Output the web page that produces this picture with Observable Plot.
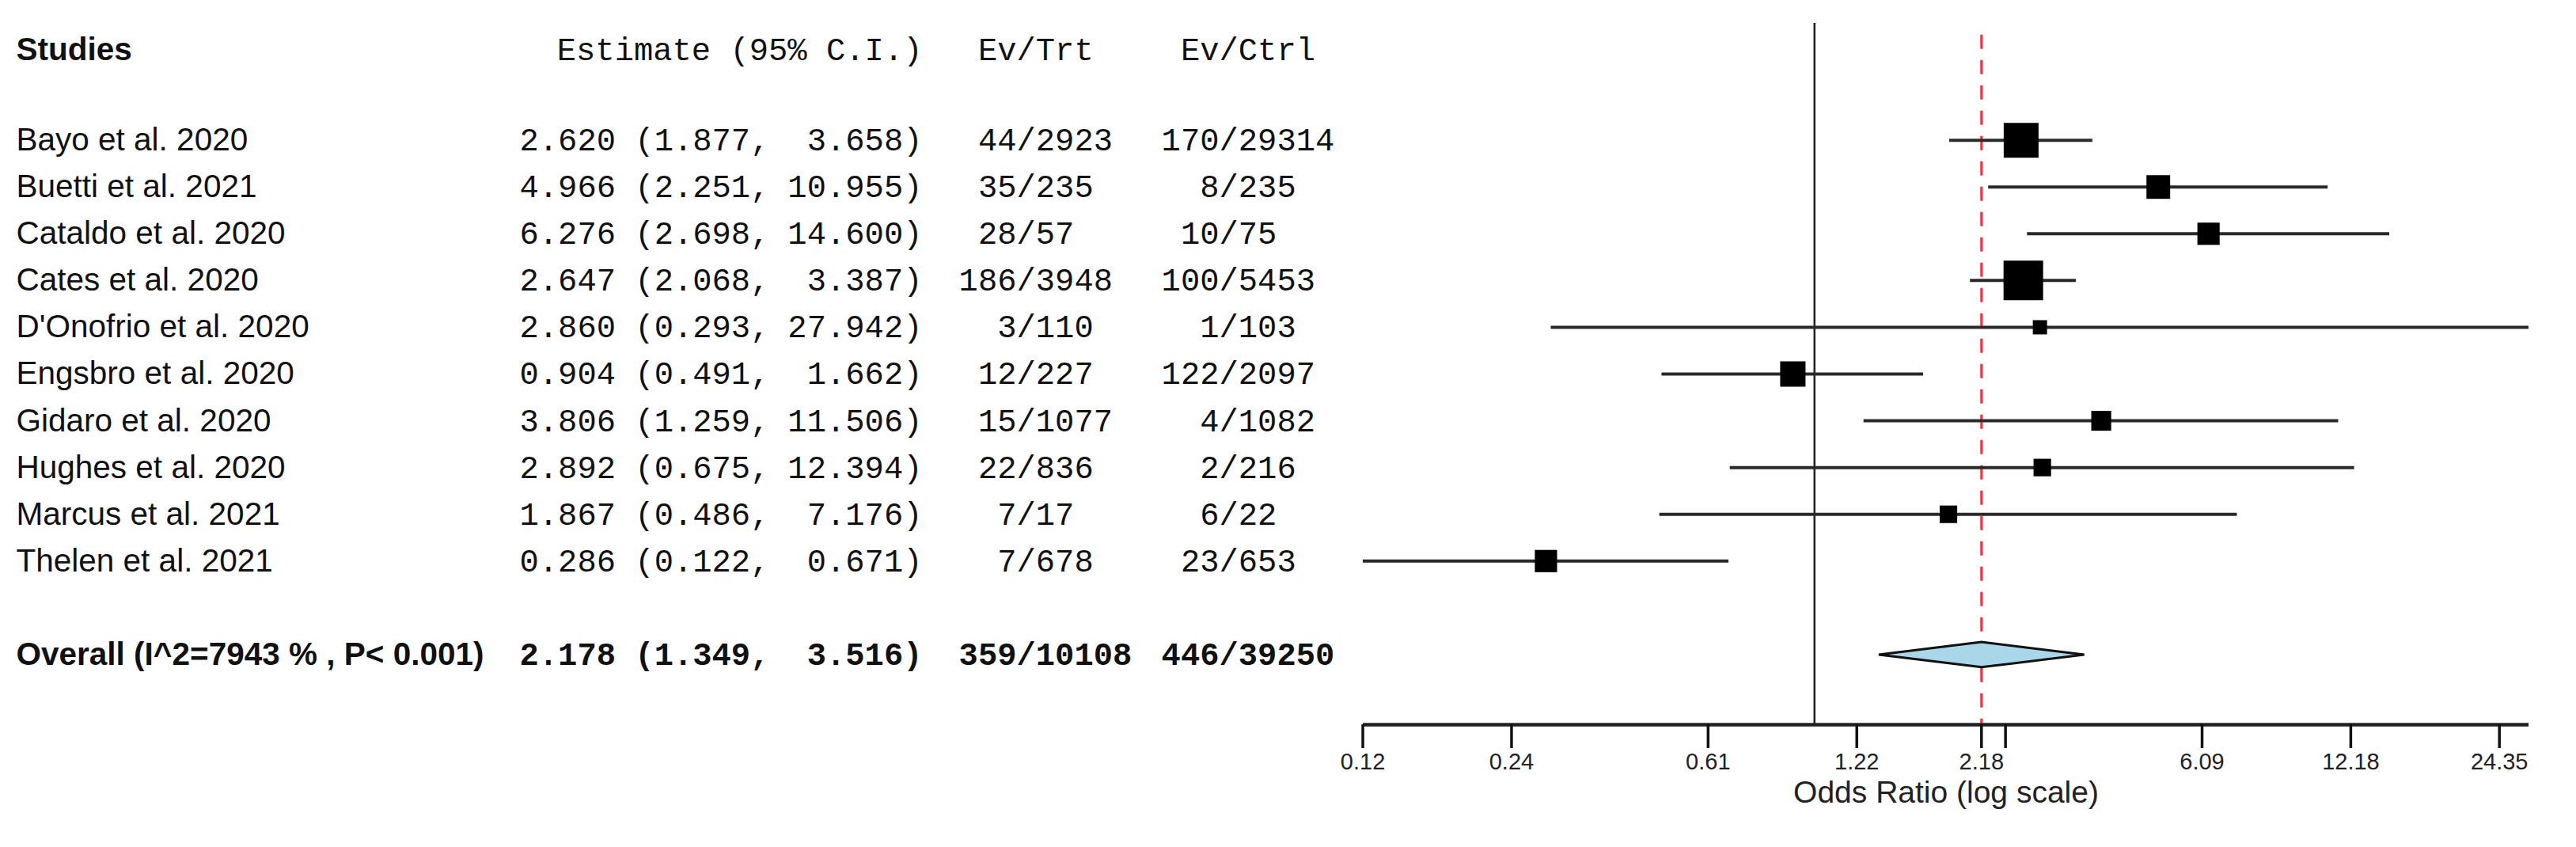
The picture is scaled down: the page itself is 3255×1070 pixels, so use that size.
<!DOCTYPE html>
<html>
<head>
<meta charset="utf-8">
<script src="https://cdn.jsdelivr.net/npm/d3@7"></script>
<script src="https://cdn.jsdelivr.net/npm/@observablehq/plot@0.6"></script>
<style>
  html, body { margin: 0; padding: 0; background: #fff; }
  #chart svg { display: block; }
</style>
</head>
<body>
<div id="chart"></div>
<script>
// ---------------- data ----------------
const studies = [
  "Bayo et al. 2020", "Buetti et al. 2021", "Cataldo et al. 2020", "Cates et al. 2020",
  "D'Onofrio et al. 2020", "Engsbro et al. 2020", "Gidaro et al. 2020", "Hughes et al. 2020",
  "Marcus et al. 2021", "Thelen et al. 2021"
];
const estimates = [2.620, 4.966, 6.276, 2.647, 2.860, 0.904, 3.806, 2.892, 1.867, 0.286];
const lower     = [1.877, 2.251, 2.698, 2.068, 0.293, 0.491, 1.259, 0.675, 0.486, 0.122];
const upper     = [3.658, 10.955, 14.600, 3.387, 27.942, 1.662, 11.506, 12.394, 7.176, 0.671];
const evTrt  = [44, 35, 28, 186, 3, 12, 15, 22, 7, 7];
const nTrt   = [2923, 235, 57, 3948, 110, 227, 1077, 836, 17, 678];
const evCtrl = [170, 8, 10, 100, 1, 122, 4, 2, 6, 23];
const nCtrl  = [29314, 235, 75, 5453, 103, 2097, 1082, 216, 22, 653];
// relative study weights (%)
const weights = [14.7, 10.0, 9.4, 16.7, 6.0, 10.7, 8.4, 7.4, 7.4, 9.4];

const overallLabel = "Overall (I^2=7943 % , P< 0.001)";
const overallEst = 2.178, overallLo = 1.349, overallHi = 3.516;
const overallEvTrt = 359, overallNTrt = 10108, overallEvCtrl = 446, overallNCtrl = 39250;

const headers = ["Studies", "Estimate (95% C.I.)", "Ev/Trt", "Ev/Ctrl"];
const tickValues = [0.1218, 0.2436, 0.609, 1.218, 2.178, 2.436, 6.09, 12.18, 24.35];
const tickLabels = ["0.12", "0.24", "0.61", "1.22", "2.18", "", "6.09", "12.18", "24.35"];
const xLabel = "Odds Ratio (log scale)";

// ---------------- layout (pixels) ----------------
const W = 3255, H = 1070;
const mLeft = 1722, mRight = 60, mTop = 29, mBottom = 155;
const colStudy = 20, colEstStart = 656, colEstEnd = 1165, colTrtSlash = 1284, colCtrlSlash = 1540;
const charW = 24.3;
const sans = "Liberation Sans, Arial, Helvetica, sans-serif";
const mono = "Liberation Mono, Courier New, monospace";
const fsText = 40.5;
const yTop = -2.5, yBottom = 12.5;
const rowPx = (H - mBottom - mTop) / (yBottom - yTop);
const tickLen = 30;

const rows = studies.map((s, i) => ({
  row: i, study: s, est: estimates[i], lo: lower[i], hi: upper[i], w: weights[i],
  estA: `${estimates[i].toFixed(3)} (${lower[i].toFixed(3)},`,
  estB: `${upper[i].toFixed(3)})`,
  trtA: String(evTrt[i]), trtB: "/" + nTrt[i],
  ctrlA: String(evCtrl[i]), ctrlB: "/" + nCtrl[i]
}));
const overallRow = studies.length + 1;
const overall = [{
  row: overallRow, study: overallLabel, est: overallEst, lo: overallLo, hi: overallHi,
  estA: `${overallEst.toFixed(3)} (${overallLo.toFixed(3)},`,
  estB: `${overallHi.toFixed(3)})`,
  trtA: String(overallEvTrt), trtB: "/" + overallNTrt,
  ctrlA: String(overallEvCtrl), ctrlB: "/" + overallNCtrl
}];
const headerRow = -1.93;
const diamondHalf = 0.27;
const diamond = [
  {x: overallLo, y: overallRow},
  {x: overallEst, y: overallRow - diamondHalf},
  {x: overallHi, y: overallRow},
  {x: overallEst, y: overallRow + diamondHalf}
];
const xDomain = [d3.min(lower), d3.max(upper)];
const ticks = tickValues.map((v, i) => ({v, label: tickLabels[i]}));

const textCols = (data, weight) => [
  Plot.text(data, {y: "row", text: "study", frameAnchor: "left", dx: colStudy - mLeft, textAnchor: "start",
    fontFamily: sans, fontSize: fsText, fontWeight: weight, fill: "#111"}),
  Plot.text(data, {y: "row", text: "estA", frameAnchor: "left", dx: colEstStart - mLeft, textAnchor: "start",
    fontFamily: mono, fontSize: fsText, fontWeight: weight, fill: "#111"}),
  Plot.text(data, {y: "row", text: "estB", frameAnchor: "left", dx: colEstEnd - mLeft, textAnchor: "end",
    fontFamily: mono, fontSize: fsText, fontWeight: weight, fill: "#111"}),
  Plot.text(data, {y: "row", text: "trtA", frameAnchor: "left", dx: colTrtSlash - mLeft, textAnchor: "end",
    fontFamily: mono, fontSize: fsText, fontWeight: weight, fill: "#111"}),
  Plot.text(data, {y: "row", text: "trtB", frameAnchor: "left", dx: colTrtSlash - mLeft, textAnchor: "start",
    fontFamily: mono, fontSize: fsText, fontWeight: weight, fill: "#111"}),
  Plot.text(data, {y: "row", text: "ctrlA", frameAnchor: "left", dx: colCtrlSlash - mLeft, textAnchor: "end",
    fontFamily: mono, fontSize: fsText, fontWeight: weight, fill: "#111"}),
  Plot.text(data, {y: "row", text: "ctrlB", frameAnchor: "left", dx: colCtrlSlash - mLeft, textAnchor: "start",
    fontFamily: mono, fontSize: fsText, fontWeight: weight, fill: "#111"})
];

const chart = Plot.plot({
  width: W, height: H,
  marginLeft: mLeft, marginRight: mRight, marginTop: mTop, marginBottom: mBottom,
  style: {background: "#fff", fontFamily: sans, fontSize: "28px", color: "#222"},
  x: {type: "log", domain: xDomain, axis: null},
  y: {domain: [yTop, yBottom], reverse: true, axis: null},
  r: {type: "linear", domain: [0, d3.max(weights)], range: [0, 50 / Math.sqrt(Math.PI)]},
  marks: [
    // headers
    Plot.text([headers[0]], {y: headerRow, text: d => d, frameAnchor: "left", dx: colStudy - mLeft, textAnchor: "start",
      fontFamily: sans, fontSize: fsText, fontWeight: "bold", fill: "#111"}),
    Plot.text([headers[1]], {y: headerRow, text: d => d, frameAnchor: "left", dx: colEstEnd - mLeft, textAnchor: "end",
      fontFamily: mono, fontSize: fsText, fill: "#111"}),
    Plot.text([headers[2]], {y: headerRow, text: d => d, frameAnchor: "left", dx: colTrtSlash - 2 * charW - mLeft, textAnchor: "start",
      fontFamily: mono, fontSize: fsText, fill: "#111"}),
    Plot.text([headers[3]], {y: headerRow, text: d => d, frameAnchor: "left", dx: colCtrlSlash - 2 * charW - mLeft, textAnchor: "start",
      fontFamily: mono, fontSize: fsText, fill: "#111"}),
    ...textCols(rows, "normal"),
    ...textCols(overall, "bold"),
    // reference line at 1
    Plot.ruleX([1], {stroke: "#222", strokeWidth: 2.5}),
    // summary dashed line
    Plot.ruleX([overallEst], {y1: -2.25, y2: yBottom, stroke: "#ff2a3a", strokeWidth: 3, strokeDasharray: "18,14"}),
    // confidence intervals
    Plot.ruleY(rows, {y: "row", x1: "lo", x2: "hi", stroke: "#2a2a2a", strokeWidth: 4}),
    // study boxes
    Plot.dot(rows, {x: "est", y: "row", r: "w", symbol: "square", fill: "#000", stroke: "none"}),
    // overall diamond
    Plot.line(diamond, {x: "x", y: "y", curve: "linear-closed", fill: "#a9d6e8", stroke: "#111", strokeWidth: 3, strokeLinejoin: "miter"}),
    // axis: baseline, ticks and labels
    Plot.ruleY([yBottom], {x1: xDomain[0], x2: xDomain[1], stroke: "#222", strokeWidth: 4.5}),
    Plot.ruleX(ticks, {x: "v", y1: yBottom, y2: yBottom + tickLen / rowPx, stroke: "#111", strokeWidth: 3.5}),
    Plot.text(ticks, {x: "v", text: "label", frameAnchor: "bottom", dy: 56, fontFamily: sans, fontSize: 29, fill: "#222"}),
    Plot.text([xLabel], {text: d => d, frameAnchor: "bottom", dy: 98, fontFamily: sans, fontSize: 39, fill: "#222"})
  ]
});
document.getElementById("chart").appendChild(chart);
</script>
</body>
</html>
